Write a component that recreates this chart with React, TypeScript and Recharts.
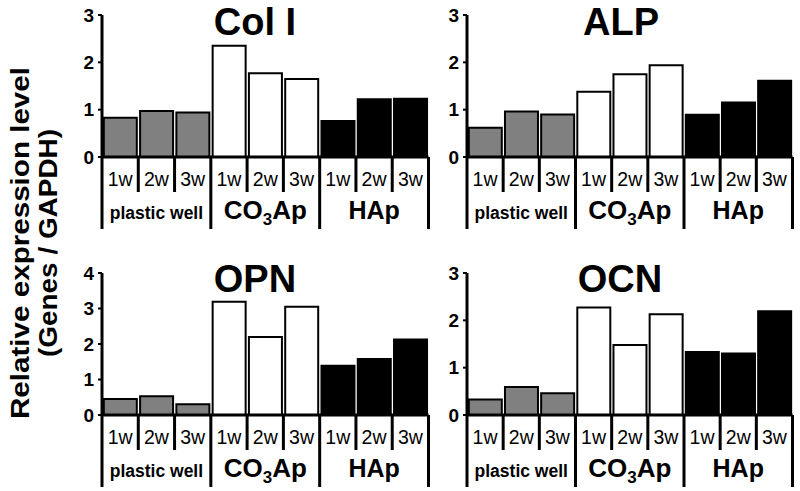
import { BarChart, Bar, XAxis, YAxis, Cell } from "recharts";

const weeks = ["1w", "2w", "3w"];
const groups = ["plastic well", "CO3Ap", "HAp"];
const groupFill = ["#808080", "#ffffff", "#000000"];

const colI = [0.83, 0.97, 0.94, 2.35, 1.77, 1.65, 0.76, 1.22, 1.23];
const alp = [0.62, 0.96, 0.9, 1.38, 1.75, 1.94, 0.89, 1.15, 1.61];
const opn = [0.45, 0.53, 0.3, 3.19, 2.2, 3.05, 1.39, 1.58, 2.13];
const ocn = [0.33, 0.59, 0.46, 2.27, 1.48, 2.13, 1.33, 1.3, 2.19];

const ticks3 = [0, 1, 2, 3];
const ticks4 = [0, 1, 2, 3, 4];

const FONT = "'Liberation Sans', Arial, Helvetica, sans-serif";

const build = (vals: number[]) =>
  vals.map((v, i) => ({
    key: groups[Math.floor(i / 3)] + "-" + weeks[i % 3],
    value: v,
  }));

function GroupLabel({ x, y, gi }: { x: number; y: number; gi: number }) {
  if (gi === 0)
    return (
      <text x={x} y={y} textAnchor="middle" fontSize={17.5} fontWeight="bold" fill="#000">
        plastic well
      </text>
    );
  if (gi === 1)
    return (
      <text x={x} y={y} textAnchor="middle" fontSize={26} fontWeight="bold" fill="#000">
        <tspan>CO</tspan>
        <tspan fontSize={17} dy={6}>3</tspan>
        <tspan dy={-6}>Ap</tspan>
      </text>
    );
  return (
    <text x={x} y={y} textAnchor="middle" fontSize={25} fontWeight="bold" fill="#000">
      HAp
    </text>
  );
}

function makeTick(bw: number) {
  return (props: any) => {
    const { x, y, index } = props;
    const wi = index % 3;
    const gi = Math.floor(index / 3);
    return (
      <g>
        <text x={x} y={y + 29} textAnchor="middle" fontSize={19.5} fill="#000">
          {weeks[wi]}
        </text>
        <line x1={x + bw / 2} x2={x + bw / 2} y1={y} y2={y + (wi === 2 ? 72 : 35)} stroke="#000" strokeWidth={3} />
        {index === 0 && <line x1={x - bw / 2} x2={x - bw / 2} y1={y} y2={y + 72} stroke="#000" strokeWidth={3} />}
        {wi === 1 && <GroupLabel x={x} y={y + 62} gi={gi} />}
      </g>
    );
  };
}

function Panel({ vals, ticks, left, top, ml, plotW }: { vals: number[]; ticks: number[]; left: number; top: number; ml: number; plotW: number }) {
  const width = 400;
  const yw = 40;
  const mr = width - ml - yw - plotW;
  const bw = plotW / 9;
  return (
    <div style={{ position: "absolute", left, top }}>
      <BarChart width={width} height={237} data={build(vals)} margin={{ top: 15, right: mr, left: ml, bottom: 0 }} barCategoryGap="5%">
        <XAxis
          dataKey="key"
          interval={0}
          height={80}
          tickSize={0}
          tickMargin={0}
          tickLine={false}
          axisLine={{ stroke: "#000", strokeWidth: 3 }}
          tick={makeTick(bw)}
        />
        <YAxis
          width={yw}
          domain={[0, ticks[ticks.length - 1]]}
          ticks={ticks}
          interval={0}
          tickSize={4}
          tickMargin={4}
          axisLine={{ stroke: "#000", strokeWidth: 3 }}
          tickLine={{ stroke: "#000", strokeWidth: 2 }}
          tick={{ fill: "#000", fontSize: 19, fontWeight: "bold" }}
        />
        <Bar dataKey="value" stroke="#000" strokeWidth={2} isAnimationActive={false}>
          {vals.map((_, i) => (
            <Cell key={i} fill={groupFill[Math.floor(i / 3)]} />
          ))}
        </Bar>
      </BarChart>
    </div>
  );
}

export default function App() {
  return (
    <div style={{ position: "absolute", left: 0, top: 0, width: 800, height: 491, background: "#fff", overflow: "hidden", fontFamily: FONT }}>
      <Panel vals={colI} ticks={ticks3} left={40} top={0} ml={22} plotW={326.5} />
      <Panel vals={alp} ticks={ticks3} left={405} top={0} ml={22} plotW={325.5} />
      <Panel vals={opn} ticks={ticks4} left={40} top={258} ml={22} plotW={326.5} />
      <Panel vals={ocn} ticks={ticks3} left={405} top={258} ml={22} plotW={325.5} />
      <svg width={800} height={491} style={{ position: "absolute", left: 0, top: 0, pointerEvents: "none" }}>
        <g fontWeight="bold" fill="#000" textAnchor="middle" fontSize={38}>
          <text x={255} y={35}>Col I</text>
          <text x={621} y={35}>ALP</text>
          <text x={255} y={292}>OPN</text>
          <text x={620} y={292}>OCN</text>
        </g>
        <g fontWeight="bold" fill="#000" textAnchor="middle" fontSize={25}>
          <text transform="translate(29,243) rotate(-90)" textLength={352} lengthAdjust="spacingAndGlyphs">
            Relative expression level
          </text>
          <text transform="translate(57,243) rotate(-90)" textLength={228} lengthAdjust="spacingAndGlyphs">
            (Genes / GAPDH)
          </text>
        </g>
      </svg>
    </div>
  );
}
